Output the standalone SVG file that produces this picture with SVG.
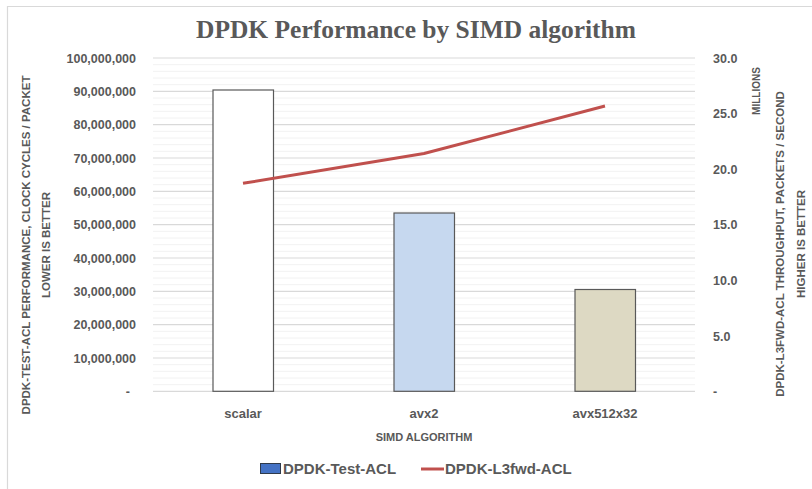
<svg xmlns="http://www.w3.org/2000/svg" width="812" height="489" viewBox="0 0 812 489">
<style>
.t{font-family:"Liberation Sans","Open Sans",sans-serif;fill:#595959}
.tick{font-size:12.5px;font-weight:bold}
.ax{font-size:11.5px;font-weight:bold}
.maj{stroke:#d9d9d9;stroke-width:1.2}
.min{stroke:#f2f2f2;stroke-width:1}
.bar{stroke:#595959;stroke-width:1.2}
</style>
<rect x="0" y="0" width="812" height="489" fill="#fff"/>
<path d="M7.5,489 V6.5 H812" fill="none" stroke="#d9d9d9" stroke-width="1.2"/>
<text class="t" x="416" y="38" text-anchor="middle" style="font-family:'Liberation Serif',serif;font-size:25px;font-weight:bold" textLength="440" lengthAdjust="spacingAndGlyphs">DPDK Performance by SIMD algorithm</text>
<g id="grid">
<g class="min">
<path d="M153,64.7H695M153,71.3H695M153,78H695M153,84.7H695M153,98H695M153,104.7H695M153,111.3H695M153,118H695M153,131.3H695M153,138H695M153,144.7H695M153,151.3H695M153,164.7H695M153,171.3H695M153,178H695M153,184.7H695M153,198H695M153,204.7H695M153,211.3H695M153,218H695M153,231.3H695M153,238H695M153,244.7H695M153,251.3H695M153,264.7H695M153,271.3H695M153,278H695M153,284.7H695M153,298H695M153,304.7H695M153,311.3H695M153,318H695M153,331.3H695M153,338H695M153,344.7H695M153,351.3H695M153,364.7H695M153,371.3H695M153,378H695M153,384.7H695"/>
</g>
<g class="maj">
<path d="M153,58H695M153,91.3H695M153,124.7H695M153,158H695M153,191.3H695M153,224.7H695M153,258H695M153,291.3H695M153,324.7H695M153,358H695M153,391.3H695"/>
</g>
</g>
<g id="left-axis" class="t tick" text-anchor="end">
<text x="136" y="63">100,000,000</text>
<text x="136" y="96">90,000,000</text>
<text x="136" y="129">80,000,000</text>
<text x="136" y="163">70,000,000</text>
<text x="136" y="196">60,000,000</text>
<text x="136" y="229">50,000,000</text>
<text x="136" y="263">40,000,000</text>
<text x="136" y="296">30,000,000</text>
<text x="136" y="329">20,000,000</text>
<text x="136" y="363">10,000,000</text>
<text x="130" y="396">-</text>
</g>
<g id="right-axis" class="t tick">
<text x="713" y="63">30.0</text>
<text x="713" y="118">25.0</text>
<text x="713" y="174">20.0</text>
<text x="713" y="229">15.0</text>
<text x="713" y="285">10.0</text>
<text x="713" y="341">5.0</text>
<text x="713" y="396">-</text>
<text x="0" y="0" transform="translate(760,91) rotate(-90)" text-anchor="middle" style="font-size:10px;font-weight:bold">MILLIONS</text>
</g>
<g id="left-title" class="t ax" text-anchor="middle">
<text transform="translate(30,245) rotate(-90)">DPDK-TEST-ACL PERFORMANCE, CLOCK CYCLES / PACKET</text>
<text transform="translate(50,245) rotate(-90)">LOWER IS BETTER</text>
</g>
<g id="right-title" class="t ax" text-anchor="middle">
<text transform="translate(784,244) rotate(-90)">DPDK-L3FWD-ACL THROUGHPUT, PACKETS / SECOND</text>
<text transform="translate(805,244) rotate(-90)">HIGHER IS BETTER</text>
</g>
<g id="bar-scalar"><rect class="bar" x="213" y="90" width="60.5" height="301.3" fill="#ffffff"/></g>
<g id="bar-avx2"><rect class="bar" x="394" y="213" width="60.5" height="178.3" fill="#c6d8ef"/></g>
<g id="bar-avx512x32"><rect class="bar" x="575" y="289.5" width="60.5" height="101.8" fill="#ddd9c3"/></g>
<g id="connectors">
<polyline points="243,183.3 424,153.5 605,106" fill="none" stroke="#c0504d" stroke-width="3" stroke-linejoin="round"/>
</g>
<g id="categories" class="t" text-anchor="middle" style="font-size:13px;font-weight:bold">
<text x="243" y="418">scalar</text>
<text x="424" y="418">avx2</text>
<text x="605" y="418">avx512x32</text>
</g>
<text class="t" x="424" y="441" text-anchor="middle" style="font-size:11px;font-weight:bold">SIMD ALGORITHM</text>
<g id="legend">
<rect x="260.5" y="463.5" width="20" height="10" fill="#4472c4" stroke="#2f3a4a" stroke-width="1"/>
<text class="t" x="283" y="474" style="font-size:15px;font-weight:bold">DPDK-Test-ACL</text>
<line x1="421" y1="469" x2="444" y2="469" stroke="#c0504d" stroke-width="3"/>
<text class="t" x="445" y="474" style="font-size:15px;font-weight:bold">DPDK-L3fwd-ACL</text>
</g>
</svg>
